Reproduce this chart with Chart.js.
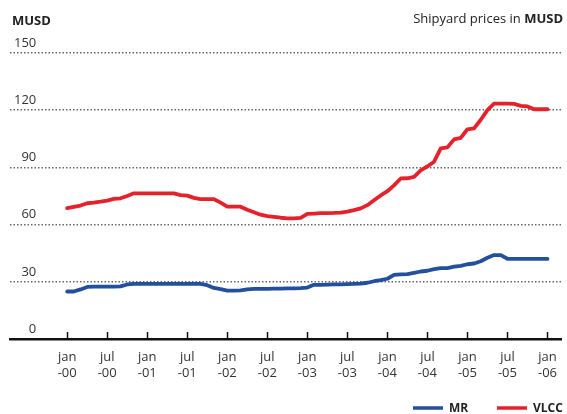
<!DOCTYPE html>
<html>
<head>
<meta charset="utf-8">
<script src="https://cdn.jsdelivr.net/npm/chart.js"></script>
<style>
  html, body { margin: 0; padding: 0; background: #fff; }
  #wrap { width: 567px; height: 414px; }
</style>
</head>
<body>
<div id="wrap"><canvas id="chart" width="567" height="414"></canvas></div>
<script>
// Precios de astillero, mensual desde ene-2000 hasta ene-2006 (indice de mes 0..72)
const seriesNames = ['MR', 'VLCC'];
const seriesColors = ['#22509c', '#e3222b'];

const vlcc = [
  68.6, 69.3, 70, 71.2, 71.5, 72, 72.6, 73.5, 73.8, 75, 76.4,
  76.4, 76.4, 76.4, 76.4, 76.4, 76.4,
  75.5, 75.2, 74, 73.4, 73.4, 73.4, 71.5, 69.4, 69.4, 69.4, 67.8, 66.5, 65.2,
  64.4, 64, 63.6, 63.3, 63.3, 63.5, 65.6, 65.8, 66, 66, 66.1, 66.3, 66.8, 67.6,
  68.5, 70.2, 72.8, 75.3, 77.5, 80.6, 84.2, 84.3, 85, 88.4, 90.5, 93, 100, 100.5,
  104.7, 105.5, 110, 110.5, 115, 120, 123.5, 123.5, 123.5, 123.3, 122.3, 122,
  120.5, 120.5, 120.5
];

const mr = [
  24.9, 24.9, 26, 27.3, 27.5, 27.5, 27.5, 27.5, 27.6, 28.6, 28.9,
  28.9, 28.9, 28.9, 28.9, 28.9, 28.9, 28.9, 28.9, 28.9, 28.9,
  28.2, 26.8, 26.2, 25.4, 25.4, 25.5, 26, 26.3, 26.3, 26.3, 26.4, 26.4, 26.5,
  26.6, 26.7, 27, 28.4, 28.4, 28.5, 28.6, 28.7, 28.8, 28.9, 29, 29.5, 30.3,
  30.9, 31.6, 33.6, 33.9, 34, 34.7, 35.4, 35.8, 36.6, 37.2, 37.2, 37.9, 38.4,
  39.2, 39.6, 40.8, 42.6, 44, 44, 42.1, 42, 42, 42, 42, 42, 42
];

const tickMonths = [0, 6, 12, 18, 24, 30, 36, 42, 48, 54, 60, 66, 72];
const tickLabels = [
  ['jan', '-00'], ['jul', '-00'], ['jan', '-01'], ['jul', '-01'], ['jan', '-02'],
  ['jul', '-02'], ['jan', '-03'], ['jul', '-03'], ['jan', '-04'], ['jul', '-04'],
  ['jan', '-05'], ['jul', '-05'], ['jan', '-06']
];
const yTicks = [0, 30, 60, 90, 120, 150];

const FONT = "'Open Sans', 'DejaVu Sans', sans-serif";

function toPoints(values) {
  return values.map((v, i) => ({ x: i, y: v }));
}

// Titulos, marcas del eje x hacia dentro y leyenda
const decorations = {
  id: 'decorations',
  afterDraw(chart) {
    const ctx = chart.ctx;
    const area = chart.chartArea;
    const xScale = chart.scales.x;
    ctx.save();

    // marcas del eje x
    ctx.strokeStyle = '#111';
    ctx.lineWidth = 1.5;
    tickMonths.forEach(m => {
      const px = Math.round(xScale.getPixelForValue(m)) + 0.5;
      ctx.beginPath();
      ctx.moveTo(px, area.bottom - 7);
      ctx.lineTo(px, area.bottom);
      ctx.stroke();
    });

    // titulos
    ctx.fillStyle = '#222';
    ctx.textBaseline = 'alphabetic';
    ctx.textAlign = 'left';
    ctx.font = 'bold 13px ' + FONT;
    ctx.fillText('MUSD', 12, 25);

    ctx.font = 'bold 13px ' + FONT;
    const boldW = ctx.measureText('MUSD').width;
    ctx.font = '13px ' + FONT;
    const normal = 'Shipyard prices in ';
    const normalW = ctx.measureText(normal).width;
    const right = 563;
    ctx.fillText(normal, right - boldW - normalW, 23);
    ctx.font = 'bold 13px ' + FONT;
    ctx.fillText('MUSD', right - boldW, 23);

    // leyenda
    const legendX = [413, 497];
    const ly = 408;
    ctx.textBaseline = 'middle';
    ctx.font = 'bold 12px ' + FONT;
    seriesNames.forEach((name, i) => {
      ctx.strokeStyle = seriesColors[i];
      ctx.lineWidth = 3.5;
      ctx.beginPath();
      ctx.moveTo(legendX[i], ly);
      ctx.lineTo(legendX[i] + 30, ly);
      ctx.stroke();
      ctx.fillStyle = '#222';
      ctx.fillText(name, legendX[i] + 36, ly + 1);
    });
    ctx.restore();
  }
};

new Chart(document.getElementById('chart'), {
  type: 'line',
  data: {
    datasets: [
      {
        label: seriesNames[0],
        data: toPoints(mr),
        borderColor: seriesColors[0],
        backgroundColor: seriesColors[0],
        borderWidth: 3.8,
        pointRadius: 0,
        tension: 0,
        borderJoinStyle: 'round',
        borderCapStyle: 'round'
      },
      {
        label: seriesNames[1],
        data: toPoints(vlcc),
        borderColor: seriesColors[1],
        backgroundColor: seriesColors[1],
        borderWidth: 3.8,
        pointRadius: 0,
        tension: 0,
        borderJoinStyle: 'round',
        borderCapStyle: 'round'
      }
    ]
  },
  options: {
    responsive: false,
    animation: false,
    layout: { padding: { top: 53, left: 10, right: 0, bottom: 0 } },
    plugins: {
      legend: { display: false },
      tooltip: { enabled: false }
    },
    scales: {
      x: {
        type: 'linear',
        min: -8.57,
        max: 74.12,
        grid: { display: false, drawTicks: false },
        border: { display: true, color: '#111', width: 2.5 },
        afterBuildTicks: scale => {
          scale.ticks = tickMonths.map(v => ({ value: v }));
        },
        afterFit: scale => { scale.height = 75; },
        ticks: {
          autoSkip: false,
          maxRotation: 0,
          padding: 10,
          color: '#333',
          font: { family: FONT, size: 13, lineHeight: 1.25 },
          callback: value => tickLabels[tickMonths.indexOf(value)]
        }
      },
      y: {
        min: 0,
        max: 150,
        afterBuildTicks: scale => {
          scale.ticks = yTicks.map(v => ({ value: v }));
        },
        afterFit: scale => { scale.width = 0; },
        grid: {
          drawTicks: false,
          lineWidth: 1.5,
          color: c => c.tick && c.tick.value === 0 ? 'rgba(0,0,0,0)' : '#666'
        },
        border: { display: false, dash: [1.5, 2] },
        ticks: {
          mirror: true,
          crossAlign: 'far',
          padding: 4,
          labelOffset: -10,
          color: '#333',
          font: { family: FONT, size: 13 }
        }
      }
    }
  },
  plugins: [decorations]
});
</script>
</body>
</html>
